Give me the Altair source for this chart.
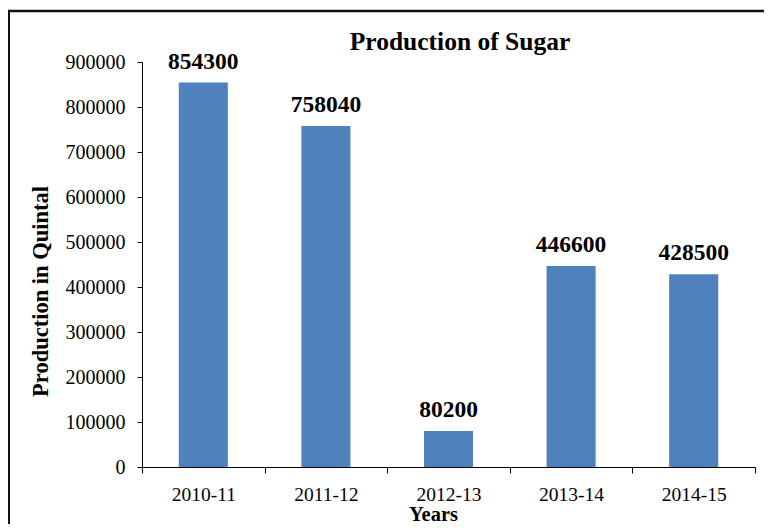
import altair as alt
import pandas as pd

years = ["2010-11", "2011-12", "2012-13", "2013-14", "2014-15"]
production = [854300, 758040, 80200, 446600, 428500]
y_ticks = [0, 100000, 200000, 300000, 400000, 500000, 600000, 700000, 800000, 900000]
chart_title = "Production of Sugar"

df = pd.DataFrame({"Year": years, "Production": production})

W, H = 613, 405
FONT = "Liberation Serif"
BAR = "#4F81BD"

x_enc = alt.X(
    "Year:N",
    sort=years,
    scale=alt.Scale(paddingInner=0, paddingOuter=0),
    axis=alt.Axis(
        title="Years",
        labelAngle=0,
        tickBand="extent",
        tickSize=6,
        labelPadding=12,
        labelFont=FONT,
        labelFontSize=19.5,
        labelColor="#000000",
        titleFont=FONT,
        titleFontSize=20.5,
        titleFontWeight="bold",
        titleColor="#000000",
        titleX=291,
        titleY=37,
        titleBaseline="top",
        domainColor="#000000",
        tickColor="#000000",
    ),
)
y_enc = alt.Y(
    "Production:Q",
    scale=alt.Scale(domain=[0, 900000], nice=False),
    axis=alt.Axis(
        title="Production in Quintal",
        values=y_ticks,
        format="d",
        grid=False,
        tickSize=5,
        labelPadding=12,
        labelFont=FONT,
        labelFontSize=20,
        labelColor="#000000",
        titleFont=FONT,
        titleFontSize=22.5,
        titleFontWeight="bold",
        titleColor="#000000",
        titleX=-95,
        titleY=229,
        titleBaseline="alphabetic",
        domainColor="#000000",
        tickColor="#000000",
    ),
)

bars = alt.Chart(df).mark_bar(color=BAR, width=alt.RelativeBandSize(0.4)).encode(x=x_enc, y=y_enc)

labels = alt.Chart(df).mark_text(
    font=FONT, fontSize=23.5, fontWeight="bold", color="#000000", baseline="alphabetic", dy=-14
).encode(x=alt.X("Year:N", sort=years), y="Production:Q", text=alt.Text("Production:Q", format="d"))

frame_df = pd.DataFrame({"title": [chart_title]})
left_line = alt.Chart(frame_df).mark_rule(color="#111111", strokeWidth=3).encode(
    x=alt.value(-133.5), y=alt.value(-51), y2=alt.value(H + 60)
)
top_line = alt.Chart(frame_df).mark_rule(color="#111111", strokeWidth=2.5).encode(
    x=alt.value(-135), x2=alt.value(W + 9), y=alt.value(-51)
)
title_text = alt.Chart(frame_df).mark_text(
    font=FONT, fontSize=25.5, fontWeight="bold", color="#000000", baseline="alphabetic", align="center"
).encode(x=alt.value(W / 2 + 11.5), y=alt.value(-12), text="title:N")

chart = (
    alt.layer(bars, labels, left_line, top_line, title_text)
    .properties(
        width=W,
        height=H,
        autosize="none",
        padding={"left": 134, "top": 54, "right": 9, "bottom": 57},
        background="white",
    )
    .configure_view(strokeWidth=0, stroke="transparent")
)

chart.save("out.html", embed_options={"renderer": "svg", "actions": False})
